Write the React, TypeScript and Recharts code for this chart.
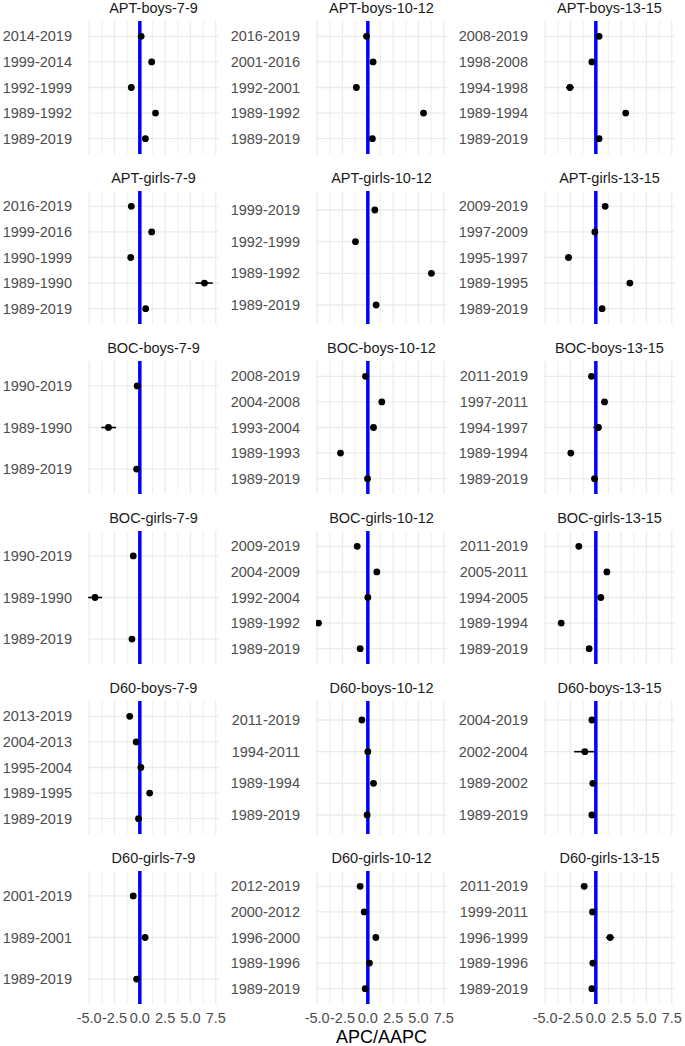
import React from 'react';
import { ScatterChart, Scatter, XAxis, YAxis, CartesianGrid, ReferenceLine, ErrorBar } from 'recharts';

const titles = [
  'APT-boys-7-9', 'APT-boys-10-12', 'APT-boys-13-15',
  'APT-girls-7-9', 'APT-girls-10-12', 'APT-girls-13-15',
  'BOC-boys-7-9', 'BOC-boys-10-12', 'BOC-boys-13-15',
  'BOC-girls-7-9', 'BOC-girls-10-12', 'BOC-girls-13-15',
  'D60-boys-7-9', 'D60-boys-10-12', 'D60-boys-13-15',
  'D60-girls-7-9', 'D60-girls-10-12', 'D60-girls-13-15',
];

// periods listed top to bottom, as they appear in each panel
const periods: string[][] = [
  ['2014-2019', '1999-2014', '1992-1999', '1989-1992', '1989-2019'],
  ['2016-2019', '2001-2016', '1992-2001', '1989-1992', '1989-2019'],
  ['2008-2019', '1998-2008', '1994-1998', '1989-1994', '1989-2019'],
  ['2016-2019', '1999-2016', '1990-1999', '1989-1990', '1989-2019'],
  ['1999-2019', '1992-1999', '1989-1992', '1989-2019'],
  ['2009-2019', '1997-2009', '1995-1997', '1989-1995', '1989-2019'],
  ['1990-2019', '1989-1990', '1989-2019'],
  ['2008-2019', '2004-2008', '1993-2004', '1989-1993', '1989-2019'],
  ['2011-2019', '1997-2011', '1994-1997', '1989-1994', '1989-2019'],
  ['1990-2019', '1989-1990', '1989-2019'],
  ['2009-2019', '2004-2009', '1992-2004', '1989-1992', '1989-2019'],
  ['2011-2019', '2005-2011', '1994-2005', '1989-1994', '1989-2019'],
  ['2013-2019', '2004-2013', '1995-2004', '1989-1995', '1989-2019'],
  ['2011-2019', '1994-2011', '1989-1994', '1989-2019'],
  ['2004-2019', '2002-2004', '1989-2002', '1989-2019'],
  ['2001-2019', '1989-2001', '1989-2019'],
  ['2012-2019', '2000-2012', '1996-2000', '1989-1996', '1989-2019'],
  ['2011-2019', '1999-2011', '1996-1999', '1989-1996', '1989-2019'],
];

const apc: number[][] = [
  [0.13, 1.17, -0.84, 1.55, 0.55],
  [-0.13, 0.52, -1.13, 5.5, 0.45],
  [0.32, -0.39, -2.56, 2.95, 0.32],
  [-0.84, 1.17, -0.9, 6.38, 0.58],
  [0.69, -1.22, 6.28, 0.82],
  [0.92, -0.1, -2.7, 3.36, 0.62],
  [-0.26, -3.1, -0.32],
  [-0.23, 1.38, 0.56, -2.7, -0.03],
  [-0.43, 0.86, 0.26, -2.47, -0.13],
  [-0.65, -4.43, -0.78],
  [-1.05, 0.89, 0.0, -4.87, -0.76],
  [-1.68, 1.09, 0.49, -3.42, -0.66],
  [-1.0, -0.36, 0.1, 0.97, -0.13],
  [-0.59, 0.0, 0.56, -0.07],
  [-0.39, -1.09, -0.3, -0.39],
  [-0.65, 0.52, -0.32],
  [-0.76, -0.36, 0.79, 0.16, -0.26],
  [-1.15, -0.33, 1.41, -0.3, -0.39],
];

const ciLow: number[][] = [
  [0.0, 1.05, -0.95, 1.4, 0.45],
  [-0.3, 0.42, -1.25, 5.35, 0.37],
  [0.2, -0.5, -2.95, 2.8, 0.25],
  [-1.0, 1.05, -1.02, 5.5, 0.5],
  [0.6, -1.35, 6.1, 0.74],
  [0.8, -0.2, -3.0, 3.2, 0.55],
  [-0.35, -3.8, -0.4],
  [-0.35, 1.2, 0.45, -2.85, -0.1],
  [-0.55, 0.75, -0.26, -2.6, -0.2],
  [-0.75, -5.1, -0.88],
  [-1.17, 0.77, -0.08, -5.0, -0.86],
  [-1.8, 0.97, 0.4, -3.55, -0.74],
  [-1.12, -0.46, 0.0, 0.85, -0.2],
  [-0.7, -0.06, 0.45, -0.13],
  [-0.5, -2.14, -0.38, -0.46],
  [-0.75, 0.43, -0.38],
  [-0.88, -0.44, 0.66, 0.08, -0.32],
  [-1.27, -0.4, 1.0, -0.37, -0.46],
];

const ciHigh: number[][] = [
  [0.26, 1.29, -0.73, 1.7, 0.65],
  [0.04, 0.62, -1.01, 5.65, 0.53],
  [0.44, -0.28, -2.17, 3.1, 0.39],
  [-0.68, 1.29, -0.78, 7.2, 0.66],
  [0.78, -1.09, 6.46, 0.9],
  [1.04, 0.0, -2.4, 3.52, 0.69],
  [-0.17, -2.36, -0.24],
  [-0.11, 1.56, 0.67, -2.55, 0.04],
  [-0.31, 0.97, 0.4, -2.34, -0.06],
  [-0.55, -3.72, -0.68],
  [-0.93, 1.01, 0.08, -4.74, -0.66],
  [-1.56, 1.21, 0.58, -3.29, -0.58],
  [-0.88, -0.26, 0.2, 1.09, -0.06],
  [-0.48, 0.06, 0.67, -0.01],
  [-0.28, -0.1, -0.22, -0.32],
  [-0.55, 0.61, -0.26],
  [-0.64, -0.28, 0.92, 0.24, -0.2],
  [-1.03, -0.26, 1.82, -0.23, -0.32],
];

// ggplot-style major and minor breaks
const xMajor = [-5, -2.5, 0, 2.5, 5, 7.5];
const xMinor = [-3.75, -1.25, 1.25, 3.75, 6.25];
const xDomain = [-5.12, 7.82];

const FONT = '"Liberation Sans", Arial, Helvetica, sans-serif';
const COL_LEFT = [0, 228, 456];
const ROW_STEP = 170;
const AXIS_W = 88;
const PANEL_W = 131;
const PANEL_H = 133;
const TITLE_H = 21;
const RIGHT_PAD = 10;

const Dot = (props: any) => <circle cx={props.cx} cy={props.cy} r={3.4} fill="#000" />;

function Panel({ idx }: { idx: number }) {
  const row = Math.floor(idx / 3);
  const col = idx % 3;
  const cats = periods[idx];
  const n = cats.length;
  const data = cats.map((p, i) => ({
    y: n - 1 - i,
    x: apc[idx][i],
    err: [apc[idx][i] - ciLow[idx][i], ciHigh[idx][i] - apc[idx][i]],
  }));
  const yTicks = cats.map((_, i) => i);
  const bottom = row === 5;
  const xh = bottom ? 30 : 0;
  const left = COL_LEFT[col];
  const top = row * ROW_STEP;

  return (
    <div style={{ position: 'absolute', left, top }}>
      <div
        style={{
          position: 'absolute',
          left: AXIS_W,
          top: 0,
          width: PANEL_W,
          textAlign: 'center',
          fontSize: 14.5,
          lineHeight: '17px',
          color: '#1A1A1A',
          whiteSpace: 'nowrap',
        }}
      >
        {titles[idx]}
      </div>
      <ScatterChart
        width={AXIS_W + PANEL_W + RIGHT_PAD}
        height={TITLE_H + PANEL_H + xh}
        margin={{ top: TITLE_H, right: RIGHT_PAD, bottom: 0, left: 0 }}
      >
        <CartesianGrid stroke="#EBEBEB" strokeWidth={1.3} vertical={false} syncWithTicks />
        <XAxis
          type="number"
          dataKey="x"
          domain={xDomain}
          allowDataOverflow
          ticks={xMajor}
          interval={0}
          height={xh}
          axisLine={false}
          tickLine={false}
          tickSize={0}
          tickMargin={8.5}
          tick={bottom ? { fill: '#4D4D4D', fontSize: 14.5 } : false}
          tickFormatter={(v: number) => v.toFixed(1)}
        />
        <YAxis
          type="number"
          dataKey="y"
          domain={[-0.6, n - 0.4]}
          allowDataOverflow
          ticks={yTicks}
          interval={0}
          width={AXIS_W}
          axisLine={false}
          tickLine={false}
          tickSize={0}
          tickMargin={16}
          tick={{ fill: '#4D4D4D', fontSize: 14.5 }}
          tickFormatter={(v: number) => cats[n - 1 - v] ?? ''}
        />
        {xMinor.map((v) => (
          <ReferenceLine key={`mn${v}`} x={v} stroke="#EBEBEB" strokeWidth={0.8} />
        ))}
        {xMajor.map((v) => (
          <ReferenceLine key={`mj${v}`} x={v} stroke="#EBEBEB" strokeWidth={1.3} />
        ))}
        <Scatter data={data} shape={Dot} isAnimationActive={false}>
          <ErrorBar dataKey="err" direction="x" width={0} stroke="#000" strokeWidth={1.6} isAnimationActive={false} />
        </Scatter>
        <ReferenceLine x={0} stroke="#0000FF" strokeWidth={3.5} />
      </ScatterChart>
    </div>
  );
}

export default function App() {
  return (
    <div
      style={{
        position: 'absolute',
        left: 0,
        top: 0,
        width: 685,
        height: 1046,
        background: '#fff',
        fontFamily: FONT,
      }}
    >
      {titles.map((t, i) => (
        <Panel key={t} idx={i} />
      ))}
      <div
        style={{
          position: 'absolute',
          left: AXIS_W,
          top: 1026,
          width: 675 - AXIS_W,
          textAlign: 'center',
          fontSize: 18,
          lineHeight: '22px',
          color: '#000',
        }}
      >
        APC/AAPC
      </div>
    </div>
  );
}
